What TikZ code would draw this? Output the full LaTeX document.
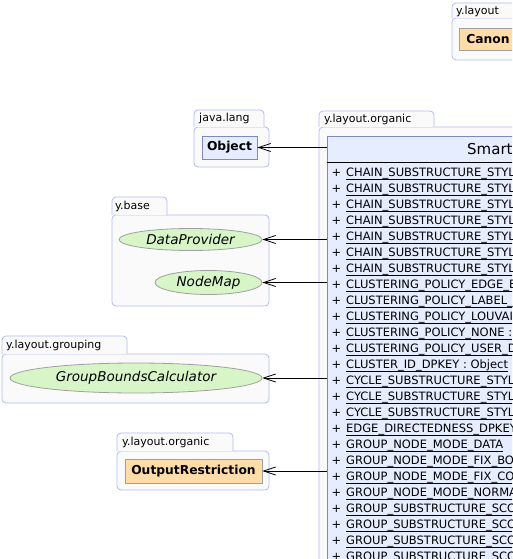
\documentclass[tikz,border=0pt]{standalone}
\usepackage{fontspec}
\setmainfont{DejaVu Sans}
\usetikzlibrary{arrows.meta,shapes.geometric}
\definecolor{pkgborder}{HTML}{B4BAF0}
\definecolor{pkgfill}{HTML}{FAFAFA}
\definecolor{clsfill}{HTML}{E6EDFF}
\definecolor{clsborder}{HTML}{7F88C0}
\definecolor{ifacefill}{HTML}{D8F5C8}
\definecolor{orangefill}{HTML}{FFDCA8}
\definecolor{grayborder}{HTML}{A0A0A0}
\tikzset{
  pkgbody/.style={draw=pkgborder, fill=pkgfill, rounded corners=4pt, line width=0.8pt},
  pkgtab/.style={draw=pkgborder, fill=pkgfill, line width=0.8pt},
  pkglabel/.style={anchor=west, inner sep=0pt, font=\fontsize{11}{13}\selectfont},
  classbox/.style={draw=clsborder, fill=clsfill, line width=0.8pt, inner sep=0pt, font=\bfseries\fontsize{12.3}{14}\selectfont},
  orangebox/.style={draw=grayborder, fill=orangefill, line width=0.8pt, inner sep=0pt, font=\bfseries\fontsize{12.3}{14}\selectfont},
  iface/.style={ellipse, draw=grayborder, fill=ifacefill, line width=0.8pt, inner sep=0pt, font=\itshape\fontsize{13.5}{15}\selectfont},
  bigclass/.style={draw=clsborder, fill=clsfill, line width=0.8pt, inner sep=0pt},
  rowtext/.style={anchor=base west, inner sep=0pt, font=\fontsize{11.5}{13}\selectfont},
  dep/.style={draw=black, line width=0.8pt, -{Straight Barb[length=12pt, width=8pt, line width=0.8pt]}},
}
\begin{document}
\begin{tikzpicture}[x=1pt,y=-1pt]
\useasboundingbox (0,0) rectangle (512,559);
\clip (0,0) rectangle (512,559);
\fill[white] (0,0) rectangle (512,559);

% package y.layout (top right)
\draw[pkgbody] (452,18) rectangle (540,60);
\filldraw[pkgtab] (452,18) [rounded corners=4pt] -- (452,3) -- (540,3) [sharp corners] -- (540,18);
\node[pkglabel] (lpkgA) at (456,11) {y.layout};
\node[orangebox, anchor=west, minimum height=22, text width=66, inner xsep=7, align=left] (canon) at (459,39) {Canon};

% package java.lang
\draw[pkgbody] (194,127) rectangle (269,167);
\filldraw[pkgtab] (194,127) [rounded corners=4pt] -- (194,110) -- (264,110) [sharp corners] -- (264,127);
\node[pkglabel] (lpkgB) at (199,118.5) {java.lang};
\node[classbox, minimum width=55, minimum height=23] (obj) at (229.5,147.5) {Object};

% package y.base
\draw[pkgbody] (112,215) rectangle (269,306);
\filldraw[pkgtab] (112,215) [rounded corners=4pt] -- (112,197) -- (167,197) [sharp corners] -- (167,215);
\node[pkglabel] (lpkgC) at (115,206) {y.base};
\node[iface, minimum width=143, minimum height=22] (dp) at (190.5,239.5) {DataProvider};
\node[iface, minimum width=107, minimum height=24] (nm) at (208.5,282.5) {NodeMap};

% package y.layout.grouping
\draw[pkgbody] (2,354) rectangle (269,403);
\filldraw[pkgtab] (2,354) [rounded corners=4pt] -- (2,336) -- (127,336) [sharp corners] -- (127,354);
\node[pkglabel] (lpkgD) at (6,345) {y.layout.grouping};
\node[iface, minimum width=252, minimum height=30] (gbc) at (136,378) {GroupBoundsCalculator};

% package y.layout.organic (small)
\draw[pkgbody] (117,451) rectangle (269,490);
\filldraw[pkgtab] (117,451) [rounded corners=4pt] -- (117,433) -- (233,433) [sharp corners] -- (233,451);
\node[pkglabel] (lpkgE) at (122,442) {y.layout.organic};
\node[orangebox, minimum width=137, minimum height=24] (outr) at (193.5,471) {OutputRestriction};

% package y.layout.organic (big)
\draw[pkgbody] (319,127) rectangle (560,600);
\filldraw[pkgtab] (319,127) [rounded corners=4pt] -- (319,111) -- (434,111) [sharp corners] -- (434,127);
\node[pkglabel] (lpkgF) at (324,119) {y.layout.organic};
\node[bigclass, anchor=north west, minimum width=240, minimum height=460] (cls) at (327,136) {};
\draw[line width=0.8pt] (327,162) -- (560,162);
\node[anchor=west, inner sep=0pt, font=\fontsize{15}{17}\selectfont] (title) at (467,149.5) {Smart};

\foreach \t [count=\i from 0] in {
  CHAIN\_SUBSTRUCTURE\_STYL, CHAIN\_SUBSTRUCTURE\_STYL, CHAIN\_SUBSTRUCTURE\_STYL,
  CHAIN\_SUBSTRUCTURE\_STYL, CHAIN\_SUBSTRUCTURE\_STYL, CHAIN\_SUBSTRUCTURE\_STYL,
  CHAIN\_SUBSTRUCTURE\_STYL, CLUSTERING\_POLICY\_EDGE\_B, CLUSTERING\_POLICY\_LABEL\_,
  CLUSTERING\_POLICY\_LOUVAI, CLUSTERING\_POLICY\_NONE :, CLUSTERING\_POLICY\_USER\_D,
  CLUSTER\_ID\_DPKEY : Object, CYCLE\_SUBSTRUCTURE\_STYL, CYCLE\_SUBSTRUCTURE\_STYL,
  CYCLE\_SUBSTRUCTURE\_STYL, EDGE\_DIRECTEDNESS\_DPKEY, GROUP\_NODE\_MODE\_DATA,
  GROUP\_NODE\_MODE\_FIX\_BO, GROUP\_NODE\_MODE\_FIX\_CO, GROUP\_NODE\_MODE\_NORMA,
  GROUP\_SUBSTRUCTURE\_SCO, GROUP\_SUBSTRUCTURE\_SCO, GROUP\_SUBSTRUCTURE\_SCO,
  GROUP\_SUBSTRUCTURE\_SCO} {
  \pgfmathsetmacro\yy{176+16*\i}
  \node[rowtext] (p\i) at (331.5,\yy) {+};
  \node[rowtext] (r\i) at (346,\yy) {\t};
  \draw[line width=0.8pt] ([yshift=-3pt]r\i.base west) -- ([yshift=-3pt]r\i.base east);
}

% dependencies
\draw[dep] (obj.east -| cls.west) -- (obj.east);
\draw[dep] (dp.east -| cls.west) -- (dp.east);
\draw[dep] (nm.east -| cls.west) -- (nm.east);
\draw[dep] (gbc.east -| cls.west) -- (gbc.east);
\draw[dep] (outr.east -| cls.west) -- (outr.east);
\end{tikzpicture}
\end{document}
